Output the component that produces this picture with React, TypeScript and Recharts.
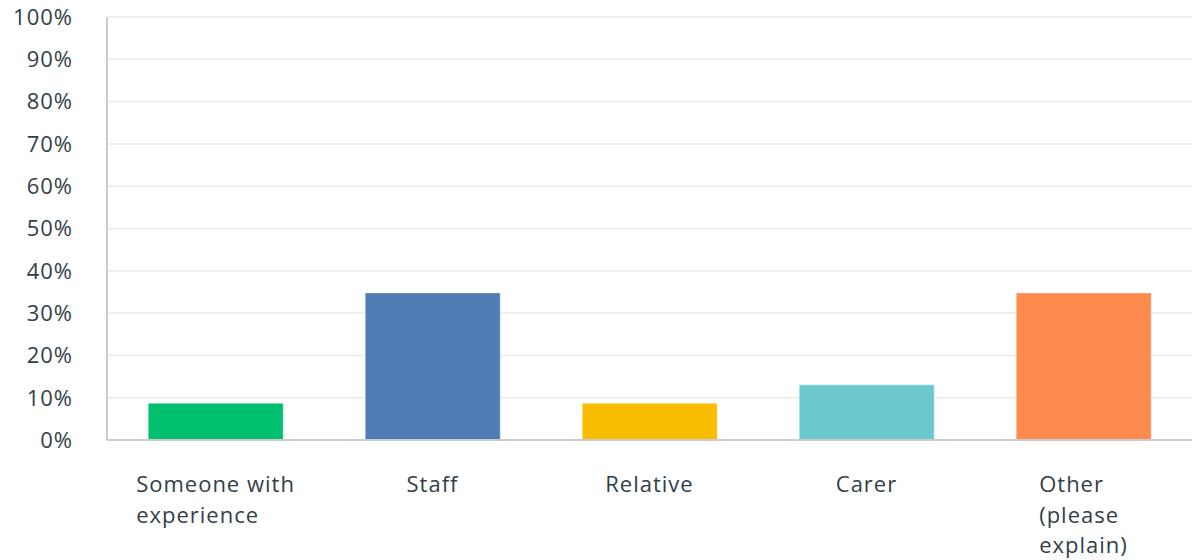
import { BarChart, Bar, XAxis, YAxis, CartesianGrid, Cell } from "recharts";

const categories = ["Someone with experience", "Staff", "Relative", "Carer", "Other (please explain)"];
const categoryLines = [
  ["Someone with", "experience"],
  ["Staff"],
  ["Relative"],
  ["Carer"],
  ["Other", "(please", "explain)"],
];
const percentages = [8.7, 34.78, 8.7, 13.04, 34.78];
const barColors = ["#00bf6f", "#507cb6", "#f9be00", "#6bc8cd", "#ff8b4f"];
const yTicks = [0, 10, 20, 30, 40, 50, 60, 70, 80, 90, 100];

const data = categories.map((name, i) => ({ name, value: percentages[i] }));

const FONT = "'Open Sans', sans-serif";
const FONT_SIZE = 22;
const SPACING = 1;
const TEXT_COLOR = "#333e48";

let ctx: CanvasRenderingContext2D | null = null;
function measure(text: string) {
  if (!ctx) ctx = document.createElement("canvas").getContext("2d");
  if (!ctx) return text.length * 11;
  ctx.font = `${FONT_SIZE}px ${FONT}`;
  return ctx.measureText(text).width + SPACING * text.length;
}

function XTick(props: any) {
  const { x, y, index } = props;
  const lines = categoryLines[index] || [];
  const w = Math.max(...lines.map(measure));
  return (
    <text
      x={x - w / 2}
      y={y + 52}
      fill={TEXT_COLOR}
      fontSize={FONT_SIZE}
      fontFamily={FONT}
      letterSpacing={SPACING}
      textAnchor="start"
    >
      {lines.map((l, i) => (
        <tspan key={i} x={x - w / 2} dy={i === 0 ? 0 : 30.5}>
          {l}
        </tspan>
      ))}
    </text>
  );
}

export default function App() {
  return (
    <div style={{ position: "fixed", left: 0, top: 0, background: "#fff" }}>
      <BarChart width={1192} height={560} data={data} margin={{ top: 17, right: 0, bottom: 0, left: 0 }} barCategoryGap="19%">
        <CartesianGrid vertical={false} stroke="#ebebeb" strokeWidth={1.5} />
        <XAxis
          dataKey="name"
          height={120}
          stroke="#cccccc"
          strokeWidth={2}
          tickLine={false}
          tickSize={0}
          tickMargin={0}
          interval={0}
          tick={<XTick />}
        />
        <YAxis
          width={107}
          domain={[0, 100]}
          ticks={yTicks}
          stroke="#cccccc"
          strokeWidth={2}
          tickLine={false}
          tickSize={0}
          tickMargin={34}
          tickFormatter={(v) => `${v}%`}
          tick={{ fill: TEXT_COLOR, fontSize: FONT_SIZE, fontFamily: FONT, letterSpacing: SPACING }}
        />
        <Bar dataKey="value" isAnimationActive={false}>
          {data.map((d, i) => (
            <Cell key={d.name} fill={barColors[i]} stroke="#ffffff" strokeOpacity={0.4} strokeWidth={1} />
          ))}
        </Bar>
      </BarChart>
    </div>
  );
}
